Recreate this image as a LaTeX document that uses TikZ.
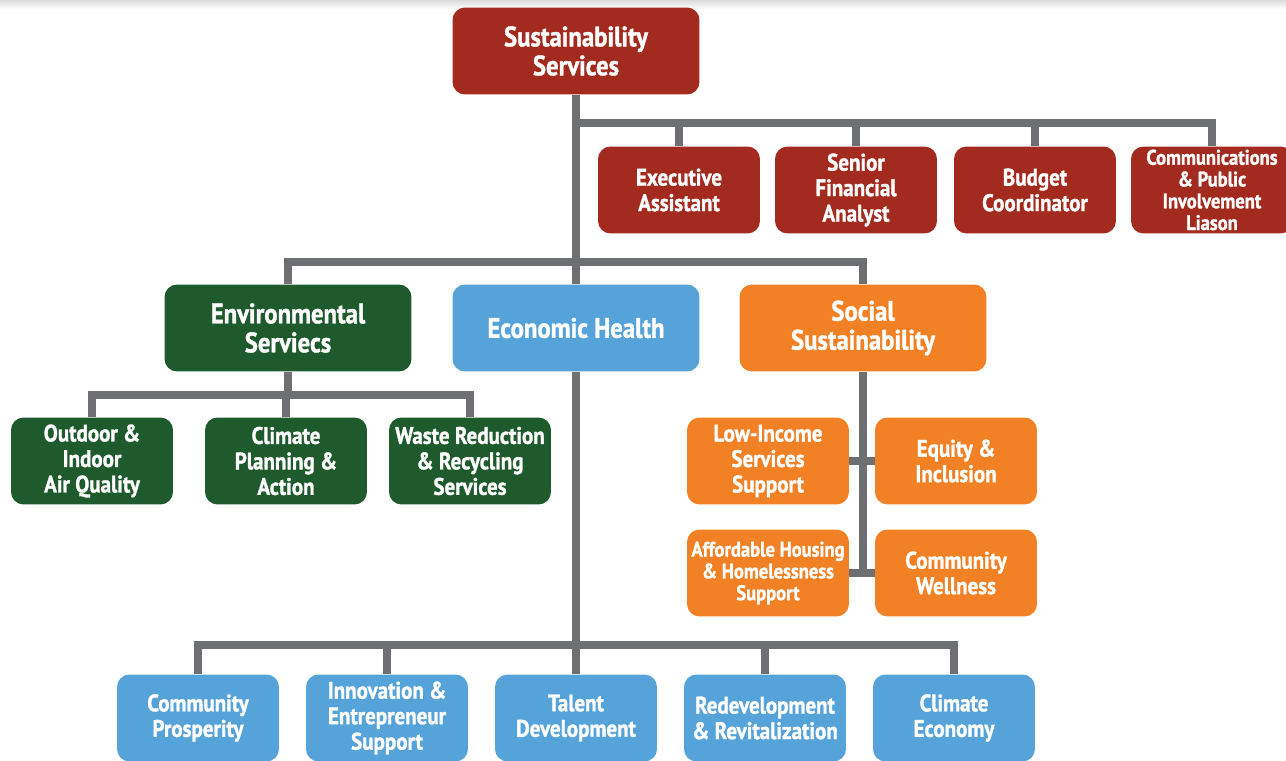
\documentclass[tikz,border=0pt]{standalone}
\usepackage{fontspec}
\setmainfont{PT Sans}[FakeStretch=0.88,FakeBold=1.2]
\definecolor{rustred}{HTML}{A32A1F}
\definecolor{forest}{HTML}{1F5A2C}
\definecolor{skyblue}{HTML}{55A3D8}
\definecolor{tangerine}{HTML}{F28125}
\definecolor{linkgray}{HTML}{6E6F72}
\begin{document}
\begin{tikzpicture}
  [
    x=0.02cm, y=-0.02cm,
    inner sep=0mm,
    unit/.style={rectangle,rounded corners=0.25cm,text=white,align=center,
      minimum width=3.24cm,minimum height=1.74cm,
      font=\bfseries\fontsize{13.6}{14.5}\selectfont},
    dept/.style={unit,minimum width=4.94cm,font=\bfseries\fontsize{16}{16.5}\selectfont},
    small/.style={font=\bfseries\fontsize{12}{12.4}\selectfont},
    rust/.style={fill=rustred},
    green/.style={fill=forest},
    blue/.style={fill=skyblue},
    orange/.style={fill=tangerine},
    link/.style={draw=linkgray,line width=0.16cm},
  ]
  \useasboundingbox (0,0) rectangle (1286,761);
  \shade[top color=black!14,bottom color=white] (0,0) rectangle (1286,9);

  % top
  \node (head) at (576,51) [dept,rust] {Sustainability\\Services};
  \node (exec) at (679,190) [unit,rust] {Executive\\Assistant};
  \node (analyst) at (856,190) [unit,rust] {Senior\\Financial\\Analyst};
  \node (budget) at (1035,190) [unit,rust] {Budget\\Coordinator};
  \node (comms) at (1212,190) [unit,rust,small] {Communications\\\& Public\\Involvement\\Liason};

  % departments
  \node (env) at (288,328) [dept,green] {Environmental\\Serviecs};
  \node (econ) at (576,328) [dept,blue] {Economic Health};
  \node (social) at (863,328) [dept,orange] {Social\\Sustainability};

  \node (air) at (92,461) [unit,green] {Outdoor \&\\Indoor\\Air Quality};
  \node (climate) at (286,461) [unit,green] {Climate\\Planning \&\\Action};
  \node (waste) at (470,461) [unit,green] {Waste Reduction\\\& Recycling\\Services};

  \node (lowinc) at (768,461) [unit,orange] {Low-Income\\Services\\Support};
  \node (equity) at (956,461) [unit,orange] {Equity \&\\Inclusion};
  \node (housing) at (768,573) [unit,orange,small] {Affordable Housing\\\& Homelessness\\Support};
  \node (wellness) at (956,573) [unit,orange] {Community\\Wellness};

  \node (prosper) at (198,718) [unit,blue] {Community\\Prosperity};
  \node (innov) at (387,718) [unit,blue] {Innovation \&\\Entrepreneur\\Support};
  \node (talent) at (576,718) [unit,blue] {Talent\\Development};
  \node (redev) at (765,718) [unit,blue] {Redevelopment\\\& Revitalization};
  \node (cleco) at (954,718) [unit,blue] {Climate\\Economy};

  % buses
  \coordinate (staffbus) at (576,123);
  \coordinate (deptbus) at (576,262);
  \coordinate (envbus) at (288,395);
  \coordinate (econbus) at (576,645);

  \draw[link] (head) -- (econ);
  \draw[link] (staffbus) -| (comms);
  \foreach \n in {exec,analyst,budget}
    \draw[link] (\n) -- (\n |- staffbus);
  \draw[link] (env) |- (deptbus) -| (social);

  \draw[link] (env) -- (envbus);
  \draw[link] (air) |- (envbus) -| (waste);
  \draw[link] (climate) -- (climate |- envbus);

  \draw[link] (social) -- (social |- housing);
  \draw[link] (lowinc) -- (equity);
  \draw[link] (housing) -- (wellness);

  \draw[link] (econ) -- (econbus);
  \draw[link] (prosper) |- (econbus) -| (cleco);
  \foreach \n in {innov,talent,redev}
    \draw[link] (\n) -- (\n |- econbus);
\end{tikzpicture}
\end{document}
